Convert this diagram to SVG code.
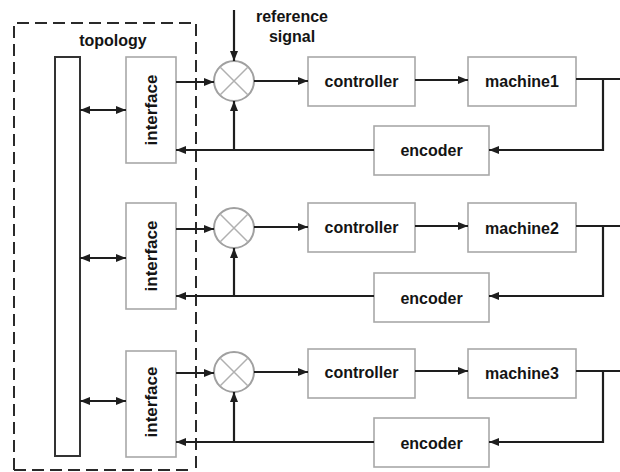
<svg xmlns="http://www.w3.org/2000/svg" width="620" height="472" viewBox="0 0 620 472">
  <defs>
    <marker id="arr" viewBox="0 0 10 8" refX="10" refY="4" markerWidth="10" markerHeight="8" markerUnits="userSpaceOnUse" orient="auto-start-reverse">
      <path d="M0,0 L10,4 L0,8 Z" fill="#1e1e1e"/>
    </marker>
    <style>
      .box { fill: #ffffff; stroke: #a8a8a8; stroke-width: 1.6; }
      .bus { fill: #ffffff; stroke: #333333; stroke-width: 2; }
      .sum { fill: #ffffff; stroke: #a0a0a0; stroke-width: 2; }
      .cross { stroke: #b0b0b0; stroke-width: 1.5; }
      .lbl { font-family: "Liberation Sans", Arial, sans-serif; font-weight: bold; font-size: 16px; fill: #141414; text-anchor: middle; dominant-baseline: central; }
      .vlbl { font-size: 17px; }
      .wire { fill: none; stroke: #1e1e1e; stroke-width: 2.2; }
      .dash { fill: none; stroke: #2a2a2a; stroke-width: 2; stroke-dasharray: 12 6; }
    </style>
  </defs>

  <rect width="620" height="472" fill="#ffffff"/>

  <!-- topology boundary -->
  <g id="topology">
    <path class="dash" d="M14,470 L14,23 L196,23 L196,472"/>
    <path class="dash" d="M14,470 L190,470"/>
    <text class="lbl" x="113" y="40">topology</text>
    <rect class="bus" x="55" y="57" width="25" height="399"/>
  </g>

  <!-- reference signal -->
  <g id="reference">
    <text class="lbl" x="292" y="16">reference</text>
    <text class="lbl" x="292" y="36">signal</text>
  </g>

  <!-- loop 1 -->
  <g id="interface1"><rect class="box" x="126" y="57" width="50" height="106"/><text class="lbl vlbl" transform="translate(151,110) rotate(-90)">interface</text></g>
  <g id="sum1"><circle class="sum" cx="234" cy="81" r="20"/><path class="cross" d="M220,67 L248,95 M248,67 L220,95"/></g>
  <g id="controller1"><rect class="box" x="308" y="57" width="107" height="49"/><text class="lbl" x="361.5" y="81">controller</text></g>
  <g id="machine1"><rect class="box" x="468" y="57" width="108" height="49"/><text class="lbl" x="522" y="81">machine1</text></g>
  <g id="encoder1"><rect class="box" x="374" y="126" width="115" height="49"/><text class="lbl" x="431.5" y="150.5">encoder</text></g>

  <!-- loop 2 -->
  <g id="interface2"><rect class="box" x="126" y="203" width="50" height="106"/><text class="lbl vlbl" transform="translate(151,256) rotate(-90)">interface</text></g>
  <g id="sum2"><circle class="sum" cx="234" cy="228" r="20"/><path class="cross" d="M220,214 L248,242 M248,214 L220,242"/></g>
  <g id="controller2"><rect class="box" x="308" y="203" width="107" height="49"/><text class="lbl" x="361.5" y="227">controller</text></g>
  <g id="machine2"><rect class="box" x="468" y="203" width="108" height="49"/><text class="lbl" x="522" y="228">machine2</text></g>
  <g id="encoder2"><rect class="box" x="374" y="273" width="115" height="49"/><text class="lbl" x="431.5" y="298">encoder</text></g>

  <!-- loop 3 -->
  <g id="interface3"><rect class="box" x="126" y="351" width="50" height="106"/><text class="lbl vlbl" transform="translate(151,402) rotate(-90)">interface</text></g>
  <g id="sum3"><circle class="sum" cx="234" cy="372" r="20"/><path class="cross" d="M220,358 L248,386 M248,358 L220,386"/></g>
  <g id="controller3"><rect class="box" x="308" y="349" width="107" height="49"/><text class="lbl" x="361.5" y="372">controller</text></g>
  <g id="machine3"><rect class="box" x="468" y="349" width="108" height="49"/><text class="lbl" x="522" y="373">machine3</text></g>
  <g id="encoder3"><rect class="box" x="374" y="418" width="115" height="49"/><text class="lbl" x="431.5" y="443">encoder</text></g>

  <!-- connectors -->
  <g id="connectors">
    <line class="wire" x1="234" y1="10" x2="234" y2="61" marker-end="url(#arr)"/>

    <!-- loop 1 -->
    <line class="wire" x1="80" y1="110" x2="126" y2="110" marker-start="url(#arr)" marker-end="url(#arr)"/>
    <line class="wire" x1="176" y1="82" x2="214" y2="82" marker-end="url(#arr)"/>
    <line class="wire" x1="254" y1="81" x2="308" y2="81" marker-end="url(#arr)"/>
    <line class="wire" x1="415" y1="80" x2="468" y2="80" marker-end="url(#arr)"/>
    <polyline class="wire" points="576,79 620,79"/>
    <polyline class="wire" points="603,79 603,150 489,150" marker-end="url(#arr)"/>
    <line class="wire" x1="374" y1="150" x2="176" y2="150" marker-end="url(#arr)"/>
    <line class="wire" x1="234" y1="150" x2="234" y2="101" marker-end="url(#arr)"/>

    <!-- loop 2 -->
    <line class="wire" x1="80" y1="258" x2="126" y2="258" marker-start="url(#arr)" marker-end="url(#arr)"/>
    <line class="wire" x1="176" y1="229" x2="214" y2="229" marker-end="url(#arr)"/>
    <line class="wire" x1="254" y1="227" x2="308" y2="227" marker-end="url(#arr)"/>
    <line class="wire" x1="415" y1="226" x2="468" y2="226" marker-end="url(#arr)"/>
    <polyline class="wire" points="576,226 620,226"/>
    <polyline class="wire" points="603,226 603,296 489,296" marker-end="url(#arr)"/>
    <line class="wire" x1="374" y1="296" x2="176" y2="296" marker-end="url(#arr)"/>
    <line class="wire" x1="234" y1="296" x2="234" y2="248" marker-end="url(#arr)"/>

    <!-- loop 3 -->
    <line class="wire" x1="80" y1="401" x2="126" y2="401" marker-start="url(#arr)" marker-end="url(#arr)"/>
    <line class="wire" x1="176" y1="373" x2="214" y2="373" marker-end="url(#arr)"/>
    <line class="wire" x1="254" y1="372" x2="308" y2="372" marker-end="url(#arr)"/>
    <line class="wire" x1="415" y1="371" x2="468" y2="371" marker-end="url(#arr)"/>
    <polyline class="wire" points="576,371 620,371"/>
    <polyline class="wire" points="603,371 603,442 489,442" marker-end="url(#arr)"/>
    <line class="wire" x1="374" y1="442" x2="176" y2="442" marker-end="url(#arr)"/>
    <line class="wire" x1="234" y1="442" x2="234" y2="392" marker-end="url(#arr)"/>
  </g>
</svg>
